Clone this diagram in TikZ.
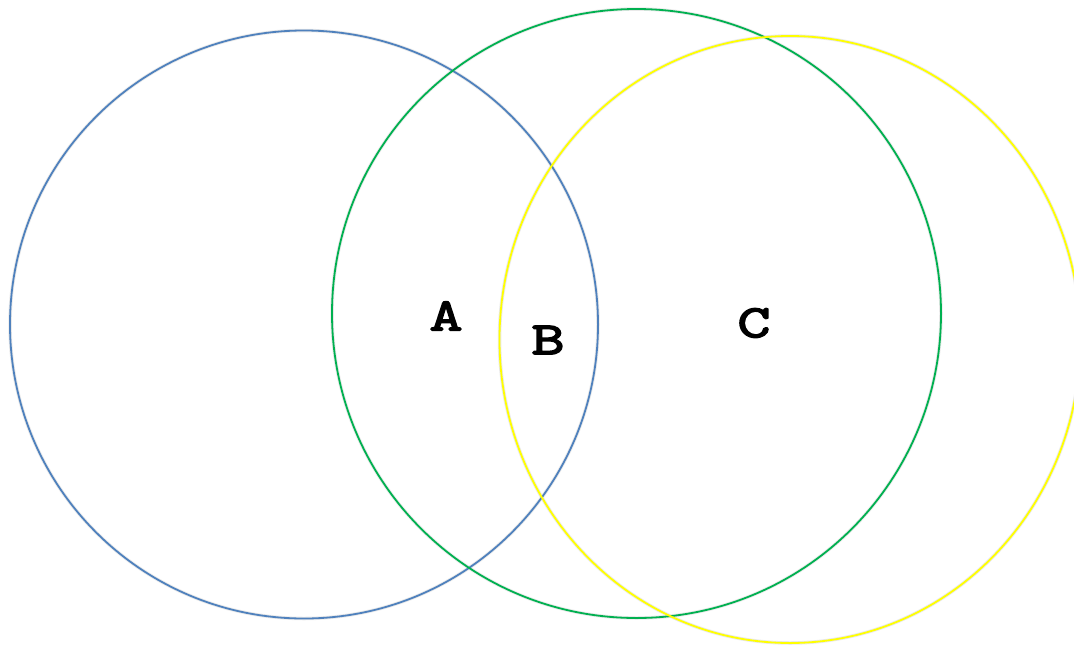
\documentclass[tikz,border=0pt]{standalone}
\usepackage{fontspec}
\newfontfamily\setfont[FakeBold=3.5,FakeStretch=1.4]{Latin Modern Mono}
\definecolor{setA}{HTML}{4F81BD}
\definecolor{setB}{HTML}{00B050}
\definecolor{setC}{HTML}{FFFF00}
\begin{document}
\begin{tikzpicture}[x=1pt,y=-1pt,
 ring/.style={line width=1.8pt},
 ringshadow/.style={black!14,line width=3.5pt,opacity=0.6},
 setlabel/.style={font=\fontsize{46}{46}\setfont}]

\useasboundingbox (0,0) rectangle (1074,646);
\clip (0,0) rectangle (1074,646);
\coordinate (OA) at (304,324.5);
\coordinate (OB) at (636.5,313.5);
\coordinate (OC) at (790,339.5);
% soft shadows under the three rings
\begin{scope}[shift={(1.5,3)}]
  \draw[ringshadow] (OA) circle (294);
  \draw[ringshadow] (OB) circle (304.5);
  \draw[ringshadow] (OC) ellipse (290.5 and 303.5);
\end{scope}
\draw[ring,setA] (OA) circle (294);
\draw[ring,setB] (OB) circle (304.5);
\draw[ring,setC] (OC) ellipse (290.5 and 303.5);
\node[setlabel] (A) at (446,316) {A};
\node[setlabel] (B) at (548,340) {B};
\node[setlabel] (C) at (754,323) {C};
\end{tikzpicture}
\end{document}
